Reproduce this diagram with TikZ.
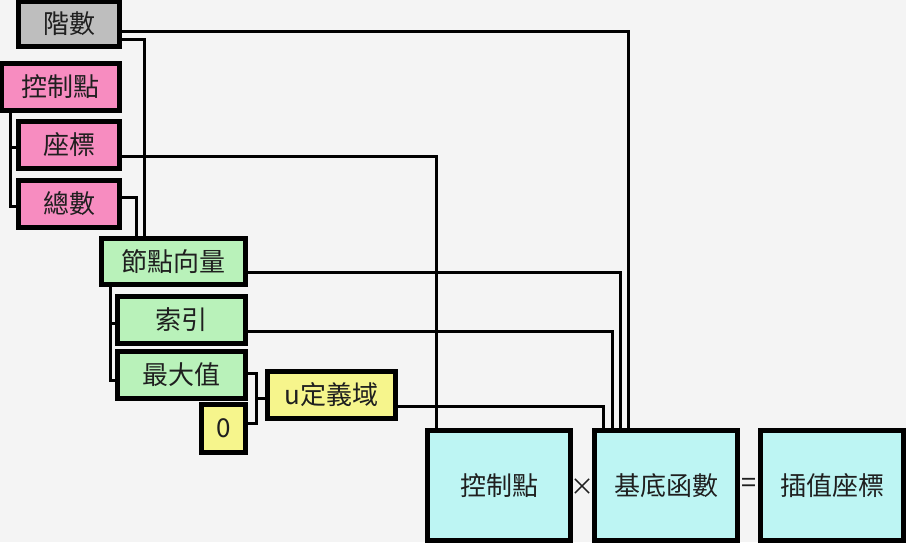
\documentclass[tikz,border=0pt]{standalone}
\usepackage{fontspec}
\setmainfont{Noto Sans CJK TC}
\definecolor{bg}{HTML}{F4F4F4}
\definecolor{cgray}{HTML}{BEBEBE}
\definecolor{cpink}{HTML}{F78CC0}
\definecolor{cgreen}{HTML}{B9F2BA}
\definecolor{cyellow}{HTML}{F6F58C}
\definecolor{ccyan}{HTML}{BDF5F3}
\begin{document}
\begin{tikzpicture}[x=1pt,y=-1pt,
  box/.style={draw=black, line width=3.2pt, rectangle, inner sep=0pt, font=\fontsize{26}{28}\selectfont, text=black!88},
  wire/.style={draw=black, line width=3pt}]
\fill[bg] (0,0) rectangle (906,542);
\useasboundingbox (0,0) rectangle (906,542);
% nodes
\node[box, fill=cgray, minimum width=100pt, minimum height=44pt] (deg) at (69,24) {階數};
\node[box, fill=cpink, minimum width=117pt, minimum height=46pt] (ctrl) at (60.5,87) {控制點};
\node[box, fill=cpink, minimum width=100pt, minimum height=46pt] (coord) at (69,145) {座標};
\node[box, fill=cpink, minimum width=100pt, minimum height=46pt] (total) at (69,204) {總數};
\node[box, fill=cgreen, minimum width=143pt, minimum height=45pt] (knot) at (173.5,261.5) {節點向量};
\node[box, fill=cgreen, minimum width=127pt, minimum height=46pt] (idx) at (181.5,320) {索引};
\node[box, fill=cgreen, minimum width=127pt, minimum height=46pt] (max) at (181.5,375) {最大值};
\node[box, fill=cyellow, minimum width=43pt, minimum height=47pt] (zero) at (223.5,428.5) {0};
\node[box, fill=cyellow, minimum width=127pt, minimum height=46pt] (dom) at (331.5,395) {u定義域};
\node[box, fill=ccyan, minimum width=142pt, minimum height=109pt] (cp) at (499,485.5) {控制點};
\node[box, fill=ccyan, minimum width=142pt, minimum height=109pt] (basis) at (666,485.5) {基底函數};
\node[box, fill=ccyan, minimum width=142pt, minimum height=109pt] (res) at (832,485.5) {插值座標};
\node[font=\fontsize{24}{26}\selectfont, text=black!88] (times) at (582.5,487) {×};
\node[font=\fontsize{27}{29}\selectfont, text=black!88] (eq) at (748.5,485) {=};
% connectors
\draw[wire] (deg.east |- 0,31) -| (basis.north -| 628,0);
\draw[wire] (deg.east |- 0,39) -| (knot.north -| 144,0);
\draw[wire] (total.east |- 0,197) -| (knot.north -| 136,0);
\draw[wire] (coord.east |- 0,156) -| (cp.north -| 436,0);
\draw[wire] (knot.east |- 0,272) -| (basis.north -| 620,0);
\draw[wire] (idx.east |- 0,331) -| (basis.north -| 612,0);
\draw[wire] (dom.east |- 0,406) -| (basis.north -| 603,0);
% brackets
\coordinate (b1) at (10,147);
\draw[wire] (ctrl.south -| 10,0) |- (total.west |- 0,206);
\draw[wire] (b1) -- (coord.west |- b1);
\coordinate (b2) at (110,323);
\draw[wire] (knot.south -| 110,0) |- (max.west |- 0,380);
\draw[wire] (b2) -- (idx.west |- b2);
\coordinate (b3) at (256,398);
\draw[wire] (max.east |- 0,373) -| (256,423) -- (zero.east |- 0,423);
\draw[wire] (b3) -- (dom.west |- b3);
% redraw box borders over wire ends
\foreach \n in {deg,ctrl,coord,total,knot,idx,max,zero,dom,cp,basis,res}{
  \draw[line width=3.2pt] (\n.north west) rectangle (\n.south east);
}
\end{tikzpicture}
\end{document}
